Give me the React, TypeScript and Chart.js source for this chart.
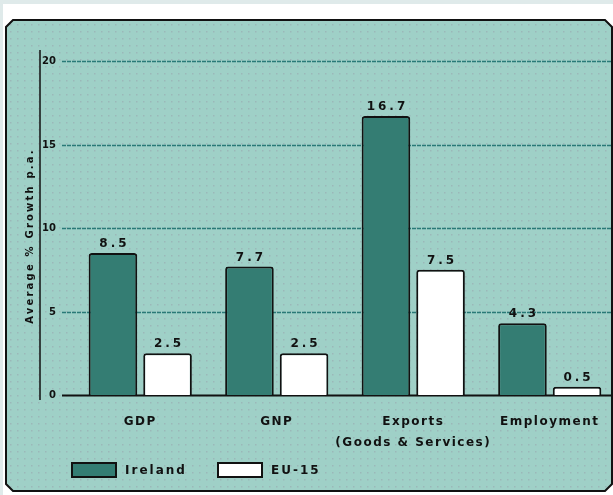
import React, { useEffect, useRef } from "react";
import { Chart, registerables } from "chart.js";

Chart.register(...registerables);

const categories: (string | string[])[] = ["GDP", "GNP", ["Exports", "(Goods & Services)"], "Employment"];
const irelandValues = [8.5, 7.7, 16.7, 4.3];
const eu15Values = [2.5, 2.5, 7.5, 0.5];
const yTicks = [0, 5, 10, 15, 20];
const yTitle = "Average % Growth p.a.";
const seriesNames = ["Ireland", "EU-15"];

const FONT = "'DejaVu Sans', Arial, sans-serif";

const bgPlugin = {
  id: "panelBg",
  beforeDraw(chart: any) {
    const { ctx, width, height } = chart;
    ctx.save();
    (ctx as any).letterSpacing = "0px";
    ctx.fillStyle = "#ffffff";
    ctx.fillRect(0, 0, width, height);
    ctx.fillStyle = "#dfeaea";
    ctx.fillRect(0, 0, width, 4);
    ctx.fillRect(0, 0, 3, height);
    const l = 6, t = 20, r = 612, b = 491, c = 7;
    ctx.beginPath();
    ctx.moveTo(l + c, t);
    ctx.lineTo(r - c, t);
    ctx.lineTo(r, t + c);
    ctx.lineTo(r, b - c);
    ctx.lineTo(r - c, b);
    ctx.lineTo(l + c, b);
    ctx.lineTo(l, b - c);
    ctx.lineTo(l, t + c);
    ctx.closePath();
    ctx.fillStyle = "#9fd0c7";
    ctx.fill();
    ctx.fillStyle = "rgba(150,140,160,0.35)";
    for (let y = t + 4; y < b - 2; y += 7) {
      for (let x = l + 4; x < r - 2; x += 7) {
        ctx.fillRect(x, y, 1.5, 1.5);
      }
    }
    ctx.lineWidth = 2;
    ctx.strokeStyle = "#111";
    ctx.stroke();

    const ys = chart.scales.y;
    yTicks.forEach((v) => {
      const py = Math.round(ys.getPixelForValue(v)) + 0.5;
      ctx.beginPath();
      ctx.moveTo(62, py);
      ctx.lineTo(611, py);
      if (v === 0) {
        ctx.strokeStyle = "#111";
        ctx.lineWidth = 2;
        ctx.setLineDash([]);
      } else {
        ctx.strokeStyle = "#2a7a78";
        ctx.lineWidth = 1.5;
        ctx.setLineDash([4, 1]);
      }
      ctx.stroke();
      ctx.fillStyle = "#111";
      ctx.font = `bold 10px ${FONT}`;
      ctx.textAlign = "right";
      ctx.textBaseline = "middle";
      ctx.fillText(String(v), 56, py);
    });
    ctx.setLineDash([]);
    ctx.beginPath();
    ctx.moveTo(40, 50);
    ctx.lineTo(40, 400);
    ctx.strokeStyle = "#111";
    ctx.lineWidth = 1.5;
    ctx.stroke();

    ctx.save();
    ctx.translate(30, 236);
    ctx.rotate(-Math.PI / 2);
    (ctx as any).letterSpacing = "2.2px";
    ctx.font = `bold 10px ${FONT}`;
    ctx.textAlign = "center";
    ctx.textBaseline = "middle";
    ctx.fillText(yTitle, 0, 0);
    ctx.restore();

    ctx.restore();
    (ctx as any).letterSpacing = "1.5px";
  },
};

const labelPlugin = {
  id: "valueLabels",
  afterDatasetsDraw(chart: any) {
    const { ctx } = chart;
    ctx.save();
    ctx.font = `bold 12px ${FONT}`;
    ctx.fillStyle = "#111";
    ctx.textAlign = "center";
    ctx.textBaseline = "bottom";
    (ctx as any).letterSpacing = "3px";
    chart.data.datasets.forEach((ds: any, i: number) => {
      const meta = chart.getDatasetMeta(i);
      meta.data.forEach((bar: any, j: number) => {
        ctx.fillText(ds.data[j].toFixed(1), bar.x + 1.5, bar.y - 3);
      });
    });
    ctx.restore();
  },
  afterDraw(chart: any) {
    const { ctx } = chart;
    ctx.save();
    const boxX = [72, 218];
    (ctx as any).letterSpacing = "2px";
    chart.data.datasets.forEach((ds: any, i: number) => {
      const x = boxX[i];
      ctx.fillStyle = ds.backgroundColor;
      ctx.fillRect(x, 463, 44, 14);
      ctx.strokeStyle = "#111";
      ctx.lineWidth = 2;
      ctx.strokeRect(x, 463, 44, 14);
      ctx.fillStyle = "#111";
      ctx.font = `bold 12px ${FONT}`;
      ctx.textAlign = "left";
      ctx.textBaseline = "middle";
      ctx.fillText(ds.label, x + 53, 471);
    });
    ctx.restore();
  },
};

export default function App() {
  const ref = useRef<HTMLCanvasElement>(null);
  useEffect(() => {
    if (!ref.current) return;
    const chart = new Chart(ref.current, {
      type: "bar",
      data: {
        labels: categories,
        datasets: [
          {
            label: seriesNames[0],
            data: irelandValues,
            backgroundColor: "#347d73",
            borderColor: "#111",
            borderWidth: 2,
            borderRadius: { topLeft: 3, topRight: 3, bottomLeft: 0, bottomRight: 0 },
            borderSkipped: "bottom",
          },
          {
            label: seriesNames[1],
            data: eu15Values,
            backgroundColor: "#ffffff",
            borderColor: "#111",
            borderWidth: 2,
            borderRadius: { topLeft: 3, topRight: 3, bottomLeft: 0, bottomRight: 0 },
            borderSkipped: "bottom",
          },
        ],
      },
      options: {
        animation: false,
        responsive: false,
        categoryPercentage: 0.8,
        barPercentage: 0.89,
        layout: { padding: { top: 61, right: 0, left: 0, bottom: 0 } },
        plugins: {
          legend: { display: false },
          tooltip: { enabled: false },
        },
        scales: {
          x: {
            grid: { display: false },
            border: { display: false },
            afterFit(scale: any) {
              scale.height = 100;
            },
            ticks: {
              color: "#111",
              font: { family: FONT, size: 12, weight: "bold", lineHeight: 1.75 },
              padding: 8,
              maxRotation: 0,
              autoSkip: false,
            },
          },
          y: {
            min: 0,
            max: 20,
            grid: { display: false },
            border: { display: false },
            afterFit(scale: any) {
              scale.width = 72;
            },
            ticks: { display: false, stepSize: 5 },
          },
        },
      },
      plugins: [bgPlugin, labelPlugin],
    });
    return () => chart.destroy();
  }, []);
  return (
    <div style={{ position: "fixed", left: 0, top: 0, width: 613, height: 495, overflow: "hidden" }}>
      <canvas ref={ref} width={618} height={495} style={{ display: "block", width: 618, height: 495 }} />
    </div>
  );
}
